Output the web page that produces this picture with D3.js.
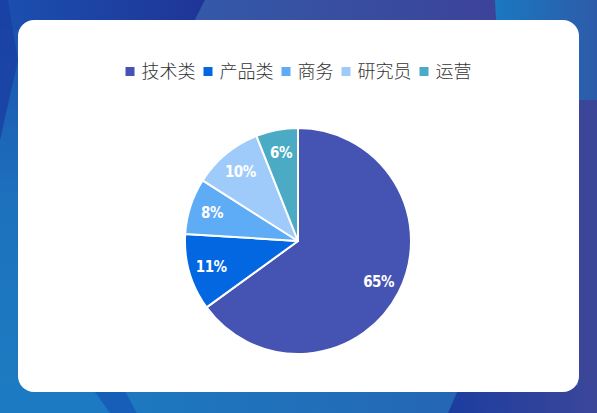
<!DOCTYPE html>
<html><head><meta charset="utf-8">
<script src="https://cdn.jsdelivr.net/npm/d3@7/dist/d3.min.js"></script>
<style>html,body{margin:0;padding:0;overflow:hidden;background:#2a5bb0}</style>
</head><body>
<svg id="c" width="597" height="413"></svg>
<script>
const categories = ["技术类", "产品类", "商务", "研究员", "运营"];
const values = [65, 11, 8, 10, 6];
const colors = ["#4553b3", "#0467e2", "#5eabf6", "#9fcbfa", "#4baac4"];

const W = 597, H = 413;
const svg = d3.select("#c");
const defs = svg.append("defs");

function lg(id, stops, x1, y1, x2, y2) {
  const g = defs.append("linearGradient").attr("id", id)
    .attr("x1", x1).attr("y1", y1).attr("x2", x2).attr("y2", y2);
  stops.forEach(s => g.append("stop").attr("offset", s[0]).attr("stop-color", s[1]));
}
lg("gBase", [[0, "#1b4fae"], [0.5, "#1d72bd"], [1, "#1d7cc2"]], 0, 0, 0, 1);
lg("gTopL", [[0, "#1a50b0"], [1, "#1f3597"]], 0, 0, 1, 0);
lg("gTopM", [[0, "#3459a8"], [1, "#3c4399"]], 0, 0, 1, 0);
lg("gTopR", [[0, "#1a78c1"], [1, "#2d5ba9"]], 0, 0, 1, 0);
lg("gBotR", [[0, "#1c3da0"], [1, "#3b4699"]], 0, 0, 1, 0);
lg("gBotM", [[0, "#1c79c0"], [1, "#2566b4"]], 0, 0, 1, 0);

// background
svg.append("rect").attr("width", W).attr("height", H).attr("fill", "url(#gBase)");
svg.append("polygon").attr("points", "0,0 205,0 190,30 0,30").attr("fill", "url(#gTopL)");
svg.append("polygon").attr("points", "0,0 8,0 18,60 0,140").attr("fill", "#1a3fa3").attr("opacity", 0.8);
svg.append("polygon").attr("points", "205,0 498,0 498,30 190,30").attr("fill", "url(#gTopM)");
svg.append("polygon").attr("points", "495,0 597,0 597,100 500,100").attr("fill", "url(#gTopR)");
svg.append("polygon").attr("points", "578,100 597,100 597,413 578,413").attr("fill", "#3b4699");
svg.append("polygon").attr("points", "0,385 120,385 135,413 0,413").attr("fill", "#1b7ac1");
svg.append("polygon").attr("points", "90,385 122,385 137,413 110,413").attr("fill", "#1758b6").attr("opacity", 0.8);
svg.append("polygon").attr("points", "122,385 460,385 448,413 137,413").attr("fill", "url(#gBotM)");
svg.append("polygon").attr("points", "460,385 597,385 597,413 448,413").attr("fill", "url(#gBotR)");

// card
svg.append("rect").attr("x", 18).attr("y", 20).attr("width", 561).attr("height", 372)
  .attr("rx", 16).attr("ry", 16).attr("fill", "#ffffff");

// legend
const legend = svg.append("g");
let x = 0;
categories.forEach((c, i) => {
  const g = legend.append("g");
  g.append("rect").attr("x", x).attr("y", -4.5).attr("width", 9).attr("height", 9)
    .attr("fill", colors[i]);
  const t = g.append("text").attr("x", x + 16).attr("y", 0).attr("dy", "0.36em")
    .attr("font-family", "'Noto Sans CJK SC', sans-serif").attr("font-size", 18)
    .attr("font-weight", 300)
    .attr("fill", "#333").text(c);
  const w = t.node().getComputedTextLength();
  x += 16 + w + 8;
});
const total = x - 8;
legend.attr("transform", `translate(${(W - total) / 2},71.5)`);

// pie
const cx = 298, cy = 241, r = 113;
const pie = d3.pie().sort(null).value(d => d)(values);
const arc = d3.arc().innerRadius(0).outerRadius(r);
const labelArc = d3.arc().innerRadius(r * 0.8).outerRadius(r * 0.8);
const pg = svg.append("g").attr("transform", `translate(${cx},${cy})`);
pg.selectAll("path").data(pie).join("path")
  .attr("d", arc).attr("fill", (d, i) => colors[i])
  .attr("stroke", "#fff").attr("stroke-width", 2).attr("stroke-linejoin", "round");
pg.selectAll("text").data(pie).join("text")
  .attr("transform", d => `translate(${labelArc.centroid(d)})`)
  .attr("text-anchor", "middle").attr("dy", "0.36em")
  .attr("font-family", "'Liberation Sans Narrow', 'DejaVu Sans Condensed', sans-serif")
  .attr("font-weight", "bold").attr("font-size", 15).attr("fill", "#fff")
  .attr("letter-spacing", -0.5)
  .text(d => d.data + "%");
</script>
</body></html>
